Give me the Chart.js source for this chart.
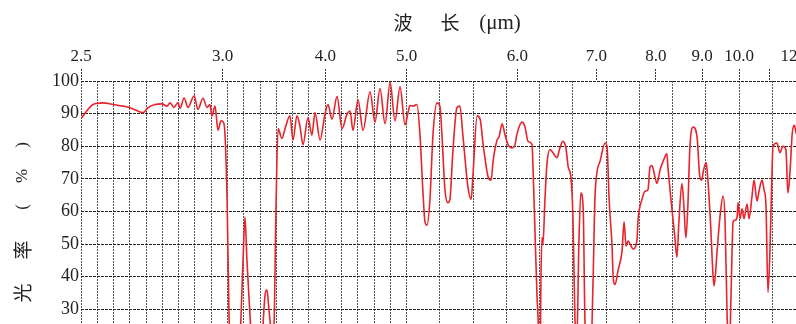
<!DOCTYPE html>
<html><head><meta charset="utf-8">
<script src="https://cdn.jsdelivr.net/npm/chart.js@4.4.1/dist/chart.umd.min.js"></script>
<style>
html,body{margin:0;padding:0;background:#fff;overflow:hidden;width:796px;height:324px;}
#clip{position:relative;width:796px;height:324px;overflow:hidden;background:#fff;}
#wrap{position:absolute;left:0;top:0;width:872px;height:420px;}
</style></head><body>
<div id="clip"><div id="wrap"><canvas id="c" width="872" height="420"></canvas></div></div>
<script>
// ---- data ----
const wavenumbers = [4000,3926,3865,3803,3742,3699,3638,3619,3589,3546,3503,3472,3453,3429,3404,3392,3367,3343,3305,3282,3251,3226,3208,3196,3177,3159,3140,3122,3103,3091,3079,3048,3024,3005,2993,2981,2962,2944,2913,2889,2870,2858,2846,2827,2815,2803,2790,2766,2747,2717,2698,2674,2655,2637,2606,2582,2563,2532,2502,2483,2459,2428,2397,2367,2348,2330,2299,2268,2225,2195,2164,2133,2102,2072,2041,2010,1996,1990,1981,1969,1960,1951,1945,1939,1930,1921,1909,1900,1894,1885,1876,1870,1861,1849,1840,1831,1816,1806,1801,1788,1779,1770,1755,1746,1740,1728,1722,1713,1704,1695,1683,1674,1669,1653,1644,1635,1623,1620,1614,1608,1605,1599,1596,1593,1590,1584,1578,1569,1560,1548,1539,1530,1521,1514,1506,1500,1494,1488,1482,1476,1469,1464,1458,1448,1439,1433,1418,1403,1397,1391,1382,1379,1373,1364,1352,1346,1340,1334,1325,1319,1307,1304,1292,1283,1274,1268,1262,1253,1247,1238,1228,1217,1214,1202,1193,1187,1181,1172,1166,1160,1154,1148,1138,1126,1118,1112,1108,1099,1096,1087,1078,1075,1066,1057,1048,1042,1036,1030,1024,1021,1018,1012,1006,1003,997,991,985,976,970,961,955,946,940,931,925,919,913,907,901,898,886,877,868,859,853,847,840,834,828,815];
const transmittance = [88.5,92.8,93.3,92.8,92.3,91.8,90.5,90.3,91.8,92.8,93.0,92.3,93.3,91.9,93.4,91.6,94.8,91.9,95.5,91.3,94.7,91.9,92.8,89.3,92.3,84.9,87.8,86.9,63.8,28,15,8,20,45,58.3,45,28,12,8,20,34.3,36,30,22,25,60,85.4,82.4,85.4,89.3,81.9,89.3,86,80.5,88.8,83.4,90.3,81.9,89.8,92.8,88.3,95.2,85.4,89.8,90.8,84.9,94.2,84.9,96.7,87.4,97.7,86.9,99.6,87.8,98.2,86.5,90.3,92.5,92.3,92.8,83.4,65.7,56.8,55.8,63.8,83.4,93.3,92.3,83.4,66.7,62.7,63.7,78.5,91.8,92.3,83.4,67.7,63.7,70.6,89.3,88.3,80.5,70.6,69.6,75.5,81.9,82.9,86.9,83.4,80.5,79.5,80.5,83.4,87.4,85.9,81.5,80.5,73.6,53.9,34.3,28,12,40,52,50,63.8,74.5,79,78,76.5,79.5,81.5,79.5,73.6,70.6,58.8,28,20,50,65.7,61,28,10,10,40,65.7,75.5,81,79.5,63.8,49,40.2,37.6,42,48,56.8,49.4,50.9,49.4,48.5,51.4,57.3,63.7,66.2,66.7,73.6,74.1,70.6,68.6,72.6,75.5,77.7,73.6,60.8,51.9,46,56.8,68.6,61.8,51.9,61.8,79.5,85.9,82.4,70.6,69.6,72.1,75,72.6,58.8,40,37.2,48,58.8,64.7,56.8,28,15,35,48,56.8,57.3,58.3,62.7,57.8,60.8,57.8,62.3,57.8,64.7,69.6,63.2,66.2,69.6,66.7,61.8,35.2,48,71.6,80,81,78,80,79,65.7,71.6,83.9,86.4,84,80];
const topTickLabels = ['2.5','3.0','4.0','5.0','6.0','7.0','8.0','9.0','10.0','','12'];
const topTickPositions = [4000,3130,2500,2000,1667,1429,1250,1111,1000,909,850]; // cm-1, as placed on the picture
const topTickMarked = [true,true,true,true,true,true,true,true,true,true,false];
const xTitleParts = ['波','长','(μm)'];
const yTitleChars = ['透','光','率','(','%',')'];

// ---- IR chart-paper scale: 4000-2000 cm-1 compressed ----
const BREAK = 2000, K = 0.49;
function toU(v){ return v >= BREAK ? BREAK + (v - BREAK) * K : v; }
function fromU(u){ return u >= BREAK ? BREAK + (u - BREAK) / K : u; }
class SplitScale extends Chart.LinearScale {
  getPixelForValue(v){
    if (v === null || v === undefined || isNaN(v)) return NaN;
    const a = toU(this.min), b = toU(this.max);
    return this.getPixelForDecimal((toU(v) - a) / (b - a));
  }
  getValueForPixel(p){
    const a = toU(this.min), b = toU(this.max);
    return fromU(a + this.getDecimalForPixel(p) * (b - a));
  }
}
SplitScale.id = 'split';
SplitScale.defaults = Chart.LinearScale.defaults;
Chart.register(SplitScale);

const SERIF = '"Liberation Serif", "DejaVu Serif", serif';
const CJK = '"Noto Sans CJK SC", sans-serif';

const titles = {
  id: 'titles',
  afterDraw(chart){
    const ctx = chart.ctx;
    ctx.save();
    ctx.fillStyle = '#222';
    ctx.textAlign = 'center';
    ctx.textBaseline = 'middle';
    ctx.font = '19px ' + CJK;
    ctx.fillText(xTitleParts[0], 403, 23);
    ctx.fillText(xTitleParts[1], 450, 23);
    ctx.font = '21px ' + SERIF;
    ctx.fillText(xTitleParts[2], 500, 23);
    ctx.translate(23, 0);
    ctx.rotate(-Math.PI / 2);
    const ys = [336, 293, 250, 207, 176, 145];
    yTitleChars.forEach((ch, i) => {
      ctx.font = (i < 3 ? '19px ' + CJK : '17px ' + SERIF);
      ctx.fillText(ch, -ys[i], 0);
    });
    ctx.restore();
  }
};

const points = wavenumbers.map((w, i) => ({x: w, y: transmittance[i]}));

new Chart(document.getElementById('c'), {
  type: 'line',
  data: { datasets: [{
    data: points,
    borderColor: '#e8232b',
    borderWidth: 1.6,
    pointRadius: 0,
    cubicInterpolationMode: 'monotone',
    fill: false
  }]},
  options: {
    responsive: false,
    animation: false,
    parsing: false,
    layout: { padding: 0 },
    plugins: { legend: {display: false}, tooltip: {enabled: false} },
    scales: {
      x: {
        type: 'split', position: 'top', reverse: true, min: 600, max: 4000,
        afterBuildTicks: s => { s.ticks = topTickPositions.map(v => ({value: v})); },
        afterFit: s => { s.height = 81; },
        ticks: { autoSkip: false, maxRotation: 0, minRotation: 0, padding: 2, color: '#222',
                 font: {family: SERIF, size: 17}, callback: (v, i) => topTickLabels[i] },
        grid: { drawOnChartArea: false, drawTicks: true, tickLength: 12,
                tickColor: c => topTickMarked[c.index] ? '#333' : 'rgba(0,0,0,0)',
                tickBorderDash: [2, 1], tickWidth: 1 },
        border: { display: false }
      },
      xg: {
        type: 'split', position: 'bottom', reverse: true, min: 600, max: 4000,
        ticks: { display: false, stepSize: 100 },
        grid: { color: '#555', lineWidth: 1, drawTicks: false },
        border: { display: false, dash: [2, 1] }
      },
      y: {
        min: 0, max: 100,
        afterFit: s => { s.width = 81; },
        ticks: { stepSize: 10, padding: 2, color: '#222', font: {family: SERIF, size: 18} },
        grid: { color: '#222', lineWidth: 1, drawTicks: false },
        border: { display: false, dash: [3, 1] }
      }
    }
  },
  plugins: [titles]
});
</script>
</body></html>
